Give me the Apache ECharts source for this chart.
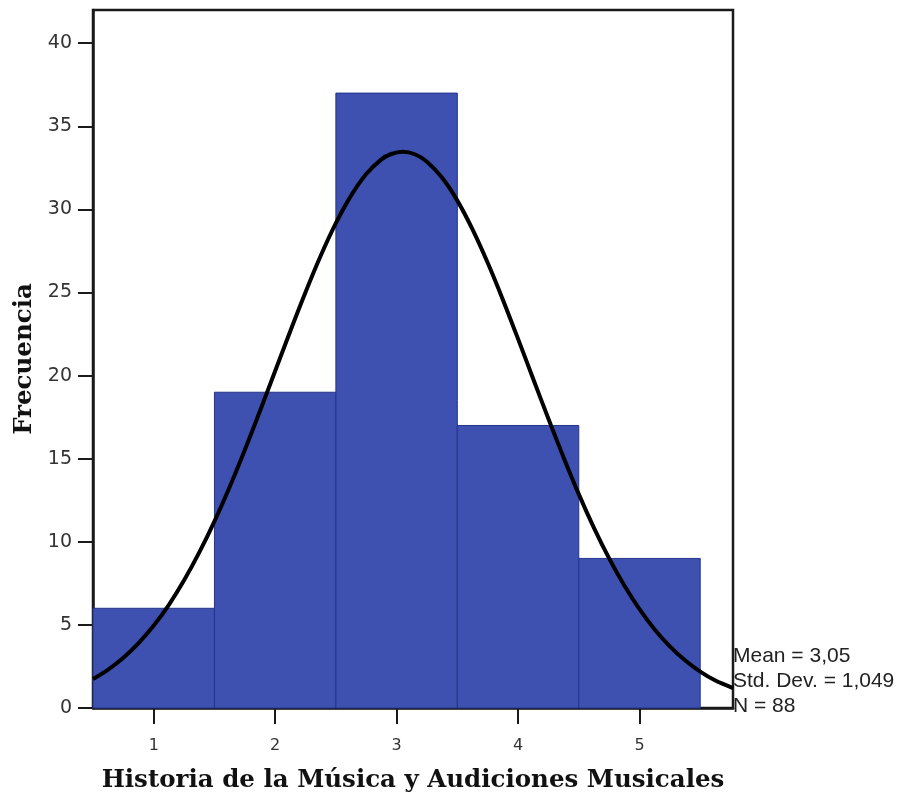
<!DOCTYPE html>
<html><head><meta charset="utf-8">
<script src="https://cdn.jsdelivr.net/npm/echarts@6/dist/echarts.min.js"></script>
<style>html,body{margin:0;padding:0;background:#fff}#c{width:903px;height:796px}</style>
</head><body><div id="c"></div>
<script>
const categories = [1, 2, 3, 4, 5];
const counts = [6, 19, 37, 17, 9];
const yTicks = [0, 5, 10, 15, 20, 25, 30, 35, 40];
// normal curve (x, frequency)
const curveX = [0.5,0.625,0.75,0.875,1,1.125,1.25,1.375,1.5,1.625,1.75,1.875,2,2.125,2.25,2.375,2.5,2.625,2.75,2.875,2.95,3.05,3.15,3.25,3.375,3.5,3.625,3.75,3.875,4,4.125,4.25,4.375,4.5,4.625,4.75,4.875,5,5.125,5.25,5.375,5.5,5.625,5.77];
const curveY = [1.74,2.31,3.02,3.90,4.96,6.21,7.68,9.36,11.23,13.30,15.53,17.87,20.28,22.69,25.02,27.21,29.17,30.83,32.13,33.01,33.32,33.47,33.32,32.87,31.90,30.53,28.80,26.79,24.57,22.21,19.80,17.40,15.08,12.87,10.84,9.00,7.37,5.95,4.73,3.71,2.87,2.19,1.65,1.2];
const statLines = ['Mean = 3,05', 'Std. Dev. = 1,049', 'N = 88'];

const chart = echarts.init(document.getElementById('c'), null, {renderer: 'canvas'});
chart.setOption({
  animation: false,
  backgroundColor: '#fff',
  grid: {left: 93, top: 10, right: 170, bottom: 88, outerBoundsMode: 'none', containLabel: false,
         show: true, borderColor: '#1a1a1a', borderWidth: 2.5, backgroundColor: 'transparent'},
  xAxis: {
    type: 'value', min: 0.5, max: 5.77,
    name: 'Historia de la Música y Audiciones Musicales',
    nameLocation: 'middle', nameGap: 60,
    nameTextStyle: {fontFamily: 'DejaVu Serif', fontWeight: 'bold', fontSize: 24.5, color: '#111'},
    axisLine: {show: true, lineStyle: {color: '#1a1a1a', width: 2.5}},
    axisTick: {show: true, customValues: categories, length: 16, lineStyle: {color: '#1a1a1a', width: 2}},
    axisLabel: {customValues: categories, margin: 30, fontFamily: 'DejaVu Sans', fontSize: 16, color: '#333'},
    splitLine: {show: false}
  },
  yAxis: {
    type: 'value', min: 0, max: 42,
    name: 'Frecuencia', nameLocation: 'middle', nameGap: 56, nameRotate: 90,
    nameTextStyle: {fontFamily: 'DejaVu Serif', fontWeight: 'bold', fontSize: 24.5, color: '#111'},
    axisLine: {show: true, lineStyle: {color: '#1a1a1a', width: 2.5}},
    axisTick: {show: true, customValues: yTicks, length: 15, lineStyle: {color: '#1a1a1a', width: 2}},
    axisLabel: {customValues: yTicks, margin: 21, fontFamily: 'DejaVu Sans', fontSize: 19, color: '#333'},
    splitLine: {show: false}
  },
  series: [
    {
      type: 'custom',
      data: categories.map((c, i) => [c, counts[i]]),
      renderItem: function (params, api) {
        const x = api.value(0), v = api.value(1);
        const p0 = api.coord([x - 0.5, v]);
        const p1 = api.coord([x + 0.5, 0]);
        return {
          type: 'rect',
          shape: {x: p0[0], y: p0[1], width: p1[0] - p0[0], height: p1[1] - p0[1]},
          style: {fill: '#3e51b0', stroke: '#24348a', lineWidth: 1}
        };
      },
      z: 2
    },
    {
      type: 'line',
      data: curveX.map((x, i) => [x, curveY[i]]),
      smooth: 0.3, showSymbol: false, symbol: 'none',
      lineStyle: {color: '#000', width: 4},
      z: 3
    }
  ],
  graphic: statLines.map((t, i) => ({
    type: 'text', left: 733, top: 646 + i * 25,
    style: {text: t, fontFamily: 'Liberation Sans', fontSize: 21, fill: '#222'}
  }))
});
</script></body></html>
